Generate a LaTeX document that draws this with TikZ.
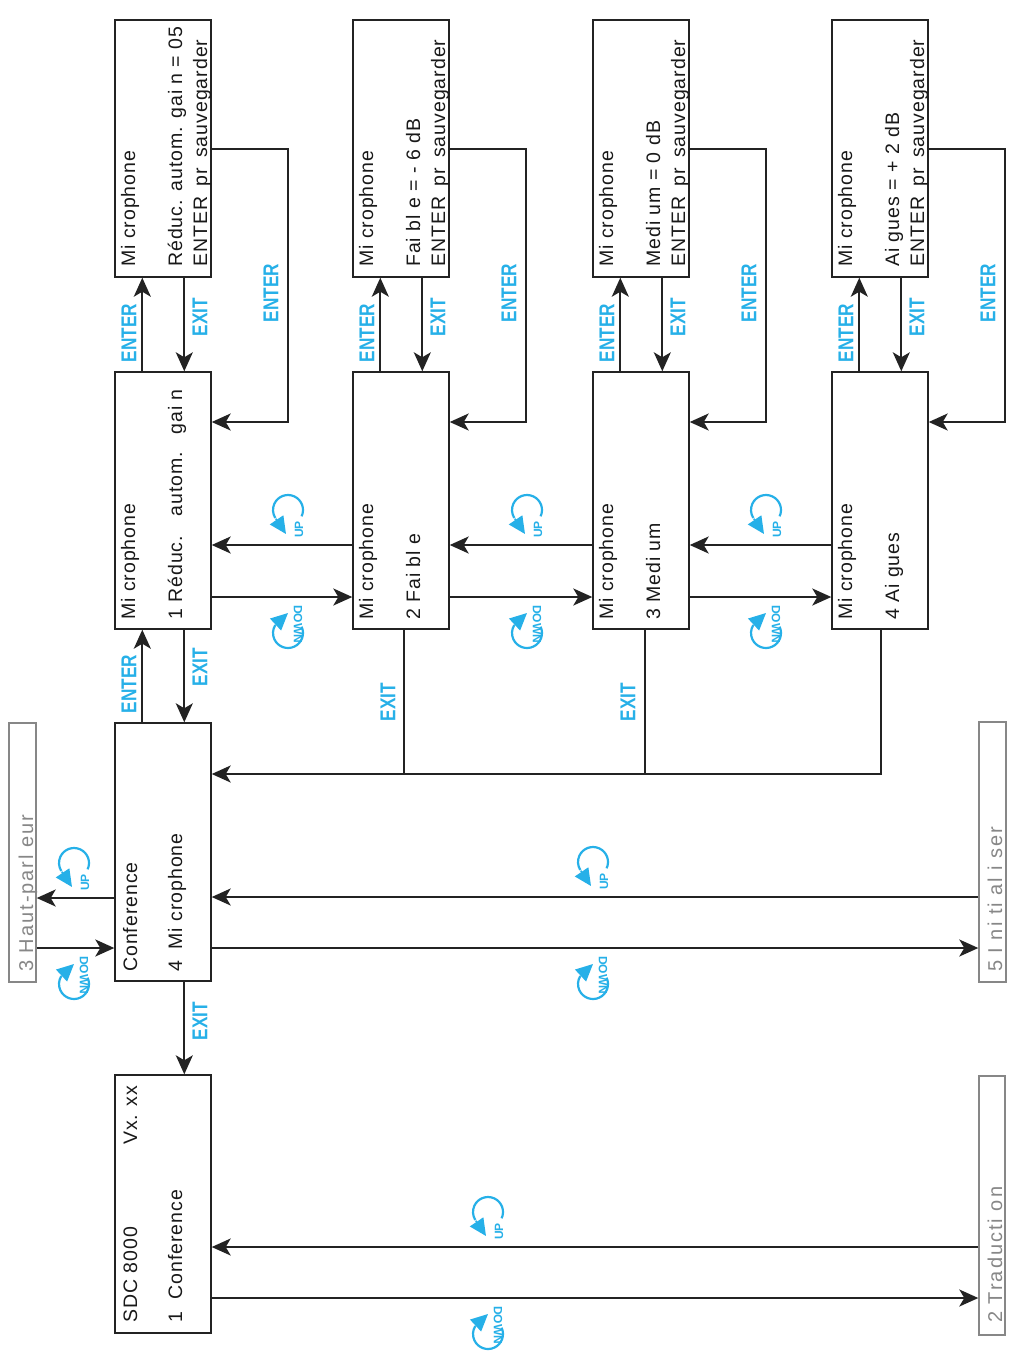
\documentclass[tikz,border=0pt]{standalone}
\usepackage{fontspec}
\setmainfont{Liberation Sans}
\newfontfamily\boxfont{Liberation Sans}[LetterSpace=5]
\newfontfamily\greyfont{Liberation Sans}[LetterSpace=10]
\newfontfamily\lblfont{Liberation Sans}[FakeStretch=0.8]
\usetikzlibrary{arrows.meta}
\definecolor{keyblue}{RGB}{38,176,232}
\definecolor{linegray}{RGB}{35,35,35}
\definecolor{softgray}{RGB}{135,135,135}
\tikzset{
  menubox/.style={draw=linegray, line width=1.4pt, minimum width=96pt, minimum height=257pt, inner sep=0pt},
  greybox/.style={draw=softgray, line width=1.4pt, inner sep=0pt},
  txt/.style={rotate=90, anchor=base west, inner sep=0pt, font=\boxfont\fontsize{19.5}{21}\selectfont, text=black!90},
  gtxt/.style={rotate=90, anchor=base west, inner sep=0pt, font=\greyfont\fontsize{20}{21}\selectfont, text=softgray},
  key/.style={rotate=90, inner sep=0pt, font=\lblfont\bfseries\fontsize{21.5}{22}\selectfont, text=keyblue},
  conn/.style={draw=linegray, line width=2pt},
  arr/.style={conn, -{Stealth[length=19pt,width=17pt,inset=5pt]}},
  icontxt/.style={inner sep=0pt, font=\bfseries\fontsize{12}{12}\selectfont, text=keyblue},
  upicon/.pic={
    \draw[keyblue, line width=2.2pt] (25:15) arc[start angle=25, end angle=-212, radius=15];
    \draw[keyblue, line width=1.5pt, -{Triangle[length=17pt,width=16pt]}] (145:15) -- (-2,24);
    \node[icontxt, rotate=90] (-upt) at (11,19.5) {UP};
  },
  downicon/.pic={
    \draw[keyblue, line width=2.2pt] (-25:15) arc[start angle=-25, end angle=212, radius=15];
    \draw[keyblue, line width=1.5pt, -{Triangle[length=17pt,width=16pt]}] (215:15) -- (0,-20);
    \node[icontxt, rotate=-90] (-dnt) at (10,-9) {DOWN};
  }
}
\begin{document}
\begin{tikzpicture}[x=1pt,y=-1pt]
\useasboundingbox (0,0) rectangle (1012,1357);
\fill[white] (0,0) rectangle (1012,1357);

% ---------- boxes ----------
\node[menubox] (A1) at (163,148.5) {};
\node[menubox] (B1) at (401,148.5) {};
\node[menubox] (C1) at (641,148.5) {};
\node[menubox] (D1) at (880,148.5) {};
\node[menubox] (A2) at (163,500.5) {};
\node[menubox] (B2) at (401,500.5) {};
\node[menubox] (C2) at (641,500.5) {};
\node[menubox] (D2) at (880,500.5) {};
\node[menubox, minimum height=258pt] (CONF) at (163,852) {};
\node[menubox, minimum height=258pt] (SDC) at (163,1204) {};
\node[greybox, minimum width=27pt, minimum height=259pt] (HP) at (22.5,852.5) {};
\node[greybox, minimum width=27pt, minimum height=260pt] (INIT) at (992.5,852) {};
\node[greybox, minimum width=26pt, minimum height=259pt] (TRAD) at (992,1205.5) {};

% ---------- texts ----------
\node[txt] (a1l1) at (135,267) {Mi crophone};
\node[txt] (a1l2) at (182,267) {Réduc. autom. gai n = 05};
\node[txt] (a1l3) at (207,267) {ENTER\hspace{4pt} pr\hspace{4pt} sauvegarder};
\node[txt] (b1l1) at (373,267) {Mi crophone};
\node[txt] (b1l2) at (420,267) {Fai bl e = - 6 dB};
\node[txt] (b1l3) at (445,267) {ENTER\hspace{4pt} pr\hspace{4pt} sauvegarder};
\node[txt] (c1l1) at (613,267) {Mi crophone};
\node[txt] (c1l2) at (660,267) {Medi um = 0 dB};
\node[txt] (c1l3) at (685,267) {ENTER\hspace{4pt} pr\hspace{4pt} sauvegarder};
\node[txt] (d1l1) at (852,267) {Mi crophone};
\node[txt] (d1l2) at (899,267) {Ai gues = + 2 dB};
\node[txt] (d1l3) at (924,267) {ENTER\hspace{4pt} pr\hspace{4pt} sauvegarder};

\node[txt] (a2l1) at (135,620) {Mi crophone};
\node[txt] (a2l2) at (182,620) {1 Réduc.\hspace{11pt} autom.\hspace{9pt} gai n};
\node[txt] (b2l1) at (373,620) {Mi crophone};
\node[txt] (b2l2) at (420,620) {2 Fai bl e};
\node[txt] (c2l1) at (613,620) {Mi crophone};
\node[txt] (c2l2) at (660,620) {3 Medi um};
\node[txt] (d2l1) at (852,620) {Mi crophone};
\node[txt] (d2l2) at (899,620) {4 Ai gues};

\node[txt] (cfl1) at (137,972) {Conference};
\node[txt] (cfl2) at (182,972) {4\hspace{5pt} Mi crophone};
\node[txt] (sdl1) at (137,1323) {SDC 8000};
\node[txt] (sdl1b) at (137,1145) {Vx. xx};
\node[txt] (sdl2) at (182,1323) {1\hspace{6pt} Conference};

\node[gtxt] (hpt) at (33,972) {3 Haut-parl eur};
\node[gtxt] (int) at (1002,972) {5 I ni ti al i ser};
\node[gtxt] (trt) at (1002,1323) {2 Traducti on};

% ---------- ENTER / EXIT between setting and menu boxes ----------
\foreach \c in {A,B,C,D}{
  \draw[arr] ([xshift=28pt]\c2.north west) -- ([xshift=28pt]\c1.south west);
  \draw[arr] ([xshift=70pt]\c1.south west) -- ([xshift=70pt]\c2.north west);
  \draw[arr] (\c1.east) -- ++(76,0) |- ([yshift=78.5pt]\c2.east);
}
\foreach \dx/\c in {0/a,238/b,478/c,717/d}{
  \node[key] (\c enter) at (129+\dx,333) {ENTER};
  \node[key] (\c exit) at (200+\dx,317) {EXIT};
  \node[key] (\c save) at (271+\dx,293) {ENTER};
}

% ---------- UP / DOWN between menu boxes ----------
\foreach \p/\q in {A/B,B/C,C/D}{
  \draw[arr] ([yshift=-44.5pt]\q2.west) -- ([yshift=-44.5pt]\p2.east);
  \draw[arr] ([yshift=-96.5pt]\p2.east) -- ([yshift=-96.5pt]\q2.west);
}
\foreach \x/\n in {288/ab,527/bc,766/cd}{
  \pic (up\n) at (\x,510) {upicon};
  \pic (dn\n) at (\x,633) {downicon};
}

% ---------- Conference <-> menu ----------
\draw[arr] ([xshift=28pt]CONF.north west) -- ([xshift=28pt]A2.south west);
\draw[arr] ([xshift=70pt]A2.south west) -- ([xshift=70pt]CONF.north west);
\node[key] (cfenter) at (129,684) {ENTER};
\node[key] (cfexit) at (200,667) {EXIT};

% EXIT bus from menu boxes
\draw[arr] ([xshift=1pt]D2.south) |- ([yshift=78pt]CONF.east);
\draw[conn] ([xshift=3pt]B2.south) -- ++(0,145);
\draw[conn] ([xshift=4pt]C2.south) -- ++(0,145);
\node[key] (bexit) at (388,702) {EXIT};
\node[key] (cexit) at (628,702) {EXIT};

% Conference <-> Haut-parleur
\coordinate (hpup) at ([yshift=-46pt]CONF.west);
\coordinate (hpdn) at ([yshift=-96pt]CONF.west);
\draw[arr] (hpup) -- (hpup -| HP.east);
\draw[arr] (hpdn -| HP.east) -- (hpdn);
\pic (uphp) at (74,863) {upicon};
\pic (dnhp) at (74,984) {downicon};

% Conference <-> Initialiser
\coordinate (inup) at ([yshift=-45pt]CONF.east);
\coordinate (indn) at ([yshift=-96pt]CONF.east);
\draw[arr] (inup -| INIT.west) -- (inup);
\draw[arr] (indn) -- (indn -| INIT.west);
\pic (upin) at (593,862) {upicon};
\pic (dnin) at (593,984) {downicon};

% Conference -> SDC
\draw[arr] ([xshift=70pt]CONF.south west) -- ([xshift=70pt]SDC.north west);
\node[key] (sdexit) at (200,1021) {EXIT};

% SDC <-> Traduction
\coordinate (trup) at ([yshift=-43pt]SDC.east);
\coordinate (trdn) at ([yshift=-94pt]SDC.east);
\draw[arr] (trup -| TRAD.west) -- (trup);
\draw[arr] (trdn) -- (trdn -| TRAD.west);
\pic (uptr) at (488,1212) {upicon};
\pic (dntr) at (488,1334) {downicon};
\end{tikzpicture}
\end{document}
